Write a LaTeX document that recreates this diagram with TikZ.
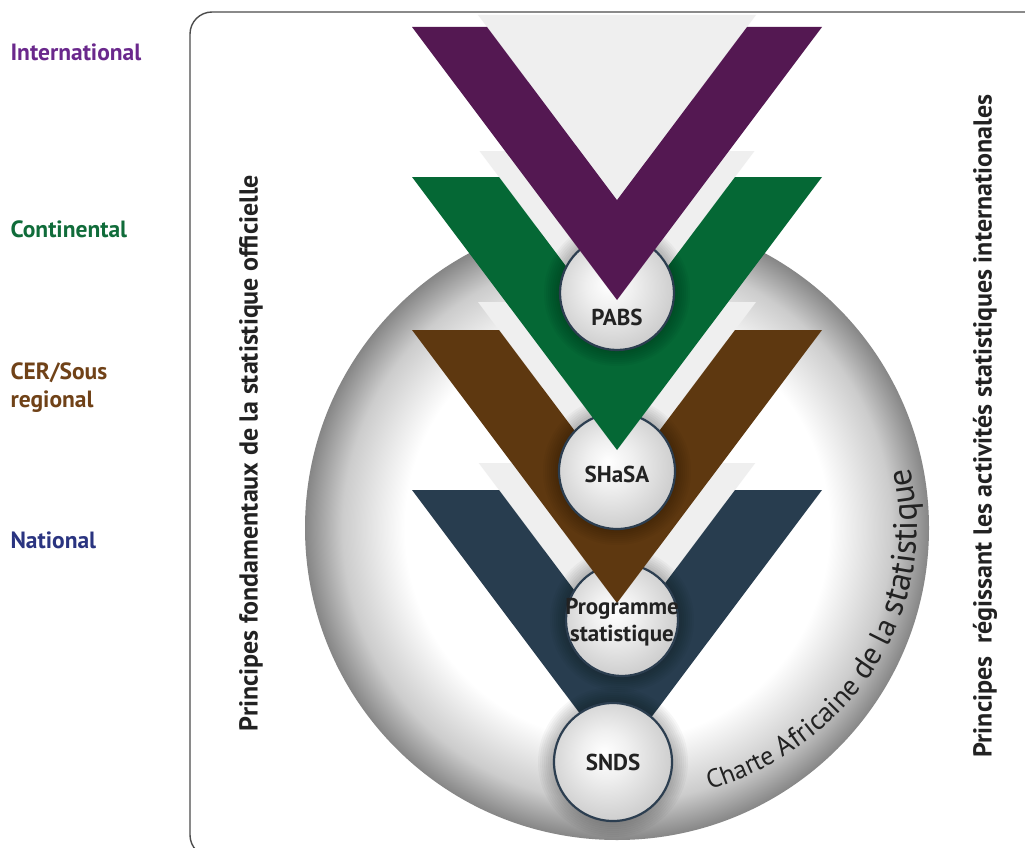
\documentclass[tikz,border=0pt]{standalone}
\usepackage{fontspec}
\setmainfont{PT Sans}
\newfontfamily\sidefont{PT Sans}
\usetikzlibrary{positioning, decorations.text}

\definecolor{veepurple}{RGB}{84,24,82}
\definecolor{veegreen}{RGB}{5,104,53}
\definecolor{veebrown}{RGB}{94,56,16}
\definecolor{veenavy}{RGB}{40,61,79}
\definecolor{lblpurple}{RGB}{106,40,140}
\definecolor{lblgreen}{RGB}{16,108,58}
\definecolor{lblbrown}{RGB}{112,66,24}
\definecolor{lblnavy}{RGB}{42,52,128}
\definecolor{veeshade}{RGB}{239,239,239}
\definecolor{rimnavy}{RGB}{44,62,80}
\definecolor{inktext}{RGB}{34,34,34}

\pgfdeclareradialshading{bigdisc}{\pgfpointorigin}{color(0bp)=(white); color(17bp)=(white); color(22bp)=(gray!40); color(25bp)=(gray!95); color(50bp)=(gray!95)}
\pgfdeclareradialshading{smalldisc}{\pgfpoint{-4bp}{4bp}}{color(0bp)=(white); color(10bp)=(gray!12); color(29bp)=(gray!42); color(50bp)=(gray!42)}

\newcommand{\drawvee}[4]{%
	\pgfmathsetmacro{\veein}{205-#3}%
	\pgfmathsetmacro{\veetop}{\veein+0.751*#4}%
	\pgfmathsetmacro{\veetip}{#2+\veein/0.751}%
	\fill[veeshade] (617-\veetop,#2-#4) -- (617+\veetop,#2-#4) -- (617,\veetip) -- cycle;
	\fill[#1] (412,#2) -- (412+#3,#2) -- (617,\veetip) -- (822-#3,#2) -- (822,#2) -- (617,#2+273) -- cycle;
}
\newcommand{\halo}[2]{%
	\foreach \k in {1,...,8} {\fill[black, opacity=0.03] (#1) circle (#2+2*\k);}
}

\begin{document}
\begin{tikzpicture}[x=1pt, y=-1pt,
	lvl/.style={anchor=west, font=\fontsize{23.5}{28}\selectfont\bfseries, align=left},
	side/.style={rotate=90, font=\sidefont\fontsize{26}{26}\selectfont\bfseries, text=inktext},
	disc/.style={circle, draw=rimnavy, line width=2.2pt, shading=smalldisc, inner sep=0pt, minimum size=#1},
	dtext/.style={font=\fontsize{23}{27}\selectfont\bfseries, text=inktext, align=center}]
	\useasboundingbox (0,0) rectangle (1025,848);
	\clip (0,0) rectangle (1025,848);
	\fill[white] (0,0) rectangle (1025,848);
	\draw[draw=black!70, line width=1.4pt, rounded corners=22pt] (190,12) rectangle (1080,857);
	
	\shade[shading=bigdisc] (617,528) circle (312);
	
	\node[lvl, text=lblpurple] (lint) at (7,52) {International};
	\node[lvl, text=lblgreen] (lcont) at (7,229) {Continental};
	\node[lvl, text=lblbrown] (lcer) at (7,388) {CER/Sous\\regional};
	\node[lvl, text=lblnavy] (lnat) at (7,540) {National};
	
	\node[side] (pleft) at (251,453) {Principes fondamentaux de la statistique officielle};
	\node[side] (pright) at (985,426) {Principes\ \ régissant les activités statistiques internationales};
	
	\drawvee{veenavy}{490}{87}{27}
	\halo{613,762}{59}
	\node[disc=118pt] (snds) at (613,762) {};
	\halo{622,620}{56}
	\node[disc=112pt] (prog) at (622,620) {};
	
	\drawvee{veebrown}{330}{87}{28}
	\halo{617,471}{58}
	\node[disc=116pt] (shasa) at (617,471) {};
	
	\drawvee{veegreen}{177}{87}{26}
	\halo{617,293}{57}
	\node[disc=114pt] (pabs) at (617,293) {};
	
	\drawvee{veepurple}{27}{75}{12}
	
	\node[dtext] (tpabs) at ([yshift=-24pt]pabs.center) {PABS};
	\node[dtext] (tshasa) at ([yshift=-3pt]shasa.center) {SHaSA};
	\node[dtext] (tprog) at ([yshift=-2pt]prog.center) {Programme\\statistique};
	\node[dtext] (tsnds) at (snds.center) {SNDS};
	
	\path[decorate, decoration={text along path, text={|\color{inktext}\fontsize{26}{26}\selectfont|Charte |\color{inktext}\fontsize{28}{28}\selectfont|Africaine |\color{inktext}\fontsize{31}{31}\selectfont|de la |\color{inktext}\fontsize{34}{34}\selectfont|statistique}}]
		(617,528) ++(72:300 and 275) arc[start angle=72, end angle=-25, x radius=300, y radius=275];
\end{tikzpicture}
\end{document}
